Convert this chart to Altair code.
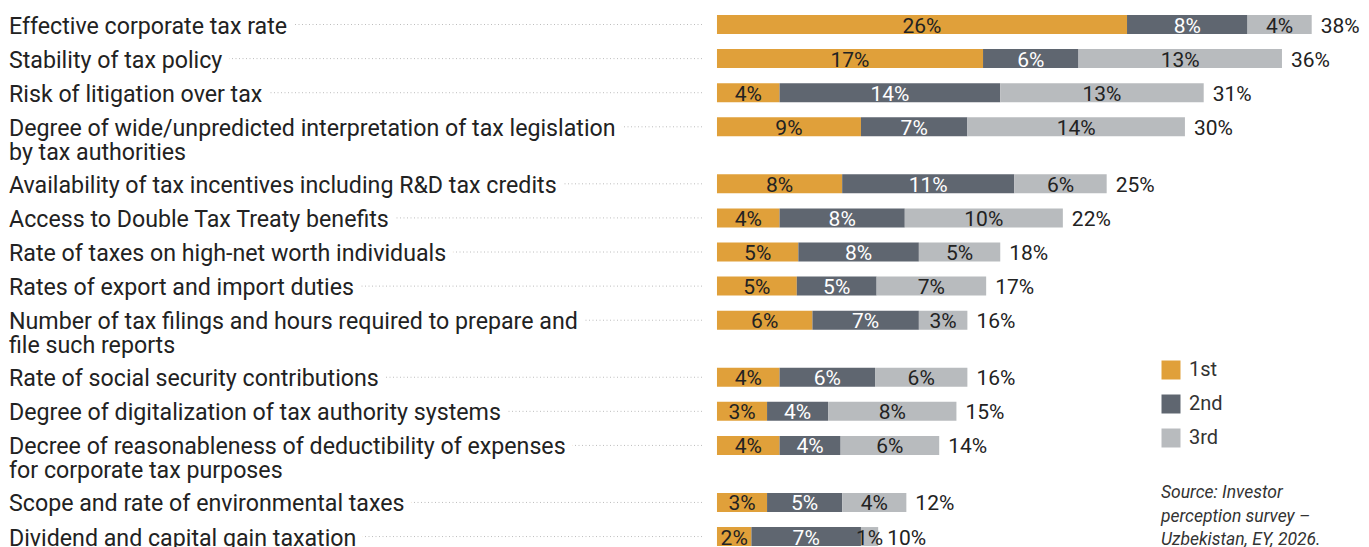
import altair as alt
import pandas as pd

categories = [
    "Effective corporate tax rate",
    "Stability of tax policy",
    "Risk of litigation over tax",
    "Degree of wide/unpredicted interpretation of tax legislation\nby tax authorities",
    "Availability of tax incentives including R&D tax credits",
    "Access to Double Tax Treaty benefits",
    "Rate of taxes on high-net worth individuals",
    "Rates of export and import duties",
    "Number of tax filings and hours required to prepare and\nfile such reports",
    "Rate of social security contributions",
    "Degree of digitalization of tax authority systems",
    "Decree of reasonableness of deductibility of expenses\nfor corporate tax purposes",
    "Scope and rate of environmental taxes",
    "Dividend and capital gain taxation",
]
first = [26.2, 17.0, 4.0, 9.2, 8.0, 4.0, 5.2, 5.1, 6.1, 4.0, 3.2, 4.0, 3.2, 2.2]
second = [7.7, 6.1, 14.1, 6.8, 11.0, 8.0, 7.7, 5.1, 6.8, 6.1, 3.9, 3.9, 4.8, 7.0]
third = [4.1, 13.0, 13.0, 13.9, 5.9, 10.1, 5.2, 7.0, 3.1, 5.9, 8.2, 6.3, 4.1, 1.1]
ranks = ["1st", "2nd", "3rd"]
colors = ["#E0A03A", "#5F6670", "#B8BBBE"]
label_colors = ["#222222", "#FFFFFF", "#222222"]
source_lines = ["Source: Investor", "perception survey \u2013", "Uzbekistan, EY, 2026."]

FONT = "Roboto"

# row positions derived from the number of text lines of each label
rows = []
pos = 0.0
for c in categories:
    n = c.count("\n") + 1
    rows.append({"cat": c, "pos": pos})
    pos += 1 + 0.672 * (n - 1)
rows_df = pd.DataFrame(rows)

seg = []
tot = []
for i, c in enumerate(categories):
    vals = [first[i], second[i], third[i]]
    start = 0.0
    for r, v, tc in zip(ranks, vals, label_colors):
        seg.append({"pos": rows[i]["pos"], "rank": r, "start": start, "end": start + v,
                    "mid": start + v / 2, "label": f"{round(v)}%", "tcolor": tc})
        start += v
    tot.append({"pos": rows[i]["pos"], "total": start, "label": f"{round(start)}%"})
seg_df = pd.DataFrame(seg)
tot_df = pd.DataFrame(tot)
src_df = pd.DataFrame({"t": ["\n".join(source_lines)]})

H = 545
yscale = alt.Scale(domain=[-0.484, -0.484 + H / 34.1], reverse=True, nice=False, zero=False, padding=0)
xscale = alt.Scale(domain=[-45.30, 41.15], nice=False, zero=False, padding=0)
Y = alt.Y("pos:Q", scale=yscale, axis=None)

leader = alt.Chart(rows_df).mark_rule(color="#BDBDBD", strokeDash=[1, 2.5], strokeWidth=1).encode(
    x=alt.value(0), x2=alt.value(695), y=Y)

halo = alt.Chart(rows_df).mark_text(
    align="left", baseline="alphabetic", dy=9, fontSize=23.2, font=FONT, lineBreak="\n",
    lineHeight=24, color="white", stroke="white", strokeWidth=16, strokeJoin="round"
).encode(x=alt.value(1), y=Y, text="cat:N")

cat_text = alt.Chart(rows_df).mark_text(
    align="left", baseline="alphabetic", dy=9, fontSize=23.2, font=FONT, lineBreak="\n",
    lineHeight=24, color="#222222"
).encode(x=alt.value(1), y=Y, text="cat:N")

bars = alt.Chart(seg_df).mark_bar(orient="horizontal", size=19).encode(
    x=alt.X("start:Q", scale=xscale, axis=None),
    x2="end:Q",
    y=Y,
    color=alt.Color("rank:N", scale=alt.Scale(domain=ranks, range=colors),
                    legend=alt.Legend(title=None, orient="none", legendX=1153, legendY=352,
                                      symbolType="square", symbolSize=361, symbolStrokeWidth=0,
                                      symbolOpacity=1, labelFontSize=20, labelFont=FONT,
                                      labelColor="#333333", labelOffset=8, rowPadding=14,
                                      padding=0, direction="vertical")),
)

bar_labels = alt.Chart(seg_df).mark_text(
    align="center", baseline="alphabetic", dy=8, fontSize=21, font=FONT
).encode(x=alt.X("mid:Q", scale=xscale), y=Y, text="label:N",
         color=alt.Color("tcolor:N", scale=None))

totals = alt.Chart(tot_df).mark_text(
    align="left", baseline="alphabetic", dx=9, dy=8, fontSize=21, font=FONT, color="#222222"
).encode(x=alt.X("total:Q", scale=xscale), y=Y, text="label:N")

source = alt.Chart(src_df).mark_text(
    align="left", baseline="alphabetic", fontSize=17.5, font=FONT, fontStyle="italic",
    lineBreak="\n", lineHeight=23.5, color="#333333"
).encode(x=alt.value(1153), y=alt.value(490), text="t:N")

chart = alt.layer(leader, halo, cat_text, bars, bar_labels, totals, source).properties(
    width=1353, height=H,
    autosize=alt.AutoSizeParams(type="none"),
    padding=0,
).configure_view(stroke=None)

chart.save("out.html", embed_options={"renderer": "svg", "actions": False})
